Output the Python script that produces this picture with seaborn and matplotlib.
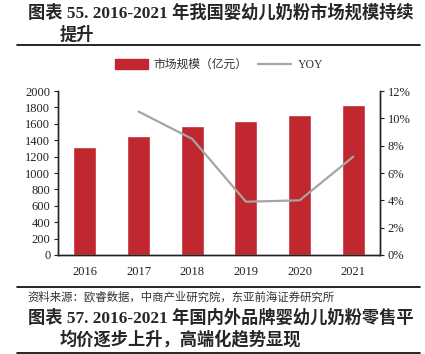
import matplotlib
matplotlib.use("Agg")
import matplotlib.pyplot as plt
import seaborn as sns
import pandas as pd
from matplotlib.patches import Patch
from matplotlib.lines import Line2D

# 数据
years = ["2016", "2017", "2018", "2019", "2020", "2021"]
market_size = [1313, 1451, 1569, 1634, 1703, 1826]
yoy = [None, 10.5, 8.5, 3.9, 4.0, 7.2]

bar_color = "#C0272F"
line_color = "#A5A5A5"
fam = ["Liberation Serif", "Noto Sans CJK SC"]

sns.set_theme(style="white")
plt.rcParams["font.family"] = fam

df = pd.DataFrame({"year": years, "size": market_size, "yoy": yoy})
df["idx"] = range(len(years))

fig = plt.figure(figsize=(4.25, 3.54), dpi=100)
ax = fig.add_axes([0.1365, 0.2797, 0.758, 0.463])

sns.barplot(data=df, x="year", y="size", color=bar_color, width=0.43,
            saturation=1, ax=ax)
ax.set_ylim(0, 2000)
ax.set_yticks(range(0, 2001, 200))
ax.set_xlim(-0.5, 5.5)
ax.set_xlabel("")
ax.set_ylabel("")

ax2 = ax.twinx()
sns.lineplot(data=df.dropna(), x="idx", y="yoy", color=line_color,
             linewidth=1.6, ax=ax2)
ax2.set_ylim(0, 12)
ax2.set_yticks(range(0, 13, 2))
ax2.set_yticklabels([f"{v}%" for v in range(0, 13, 2)])
ax2.set_xlim(-0.5, 5.5)
ax2.set_ylabel("")
ax2.set_xlabel("")

for a in (ax, ax2):
    a.spines["top"].set_visible(False)
    for s in ("left", "right", "bottom"):
        a.spines[s].set_color("#222222")
        a.spines[s].set_linewidth(1.0)
    a.tick_params(axis="y", labelsize=9, colors="#222222", length=3,
                  width=0.8, direction="out", pad=2.5)
    a.tick_params(axis="x", labelsize=9, colors="#222222", length=0, pad=8)
ax.tick_params(axis="y", left=True)
ax2.tick_params(axis="y", right=True)
ax.grid(False)
ax2.grid(False)

handles = [Patch(color=bar_color), Line2D([0], [0], color=line_color, lw=1.6)]
fig.legend(handles, ["市场规模（亿元）", "YOY"], loc="center",
           bbox_to_anchor=(0.515, 1 - 65 / 354), ncol=2, frameon=False,
           handlelength=2.8, handleheight=0.9, columnspacing=0.9,
           handletextpad=0.5, prop={"family": fam, "size": 8.5},
           labelcolor="#333333")

# 标题及注释
fig.text(28 / 425, 1 - 13 / 354, "图表 55. 2016-2021 年我国婴幼儿奶粉市场规模持续",
         fontsize=12.4, fontweight="bold", va="center", ha="left", family=fam)
fig.text(60 / 425, 1 - 35 / 354, "提升", fontsize=12.4, fontweight="bold",
         va="center", ha="left", family=fam)
fig.add_artist(Line2D([17 / 425, 420 / 425], [1 - 45 / 354, 1 - 45 / 354],
                      color="black", lw=1.2))
fig.add_artist(Line2D([17 / 425, 420 / 425], [1 - 287 / 354, 1 - 287 / 354],
                      color="black", lw=1.2))
fig.text(27 / 425, 1 - 297 / 354, "资料来源：欧睿数据，中商产业研究院，东亚前海证券研究所",
         fontsize=8.2, va="center", ha="left", color="#333333", family=fam)
fig.text(28 / 425, 1 - 318 / 354, "图表 57. 2016-2021 年国内外品牌婴幼儿奶粉零售平",
         fontsize=12.4, fontweight="bold", va="center", ha="left", family=fam)
fig.text(60 / 425, 1 - 340 / 354, "均价逐步上升，高端化趋势显现", fontsize=12.4,
         fontweight="bold", va="center", ha="left", family=fam)
fig.add_artist(Line2D([17 / 425, 420 / 425], [1 - 353 / 354, 1 - 353 / 354],
                      color="black", lw=1.2))

fig.savefig("out.png", dpi=100)
